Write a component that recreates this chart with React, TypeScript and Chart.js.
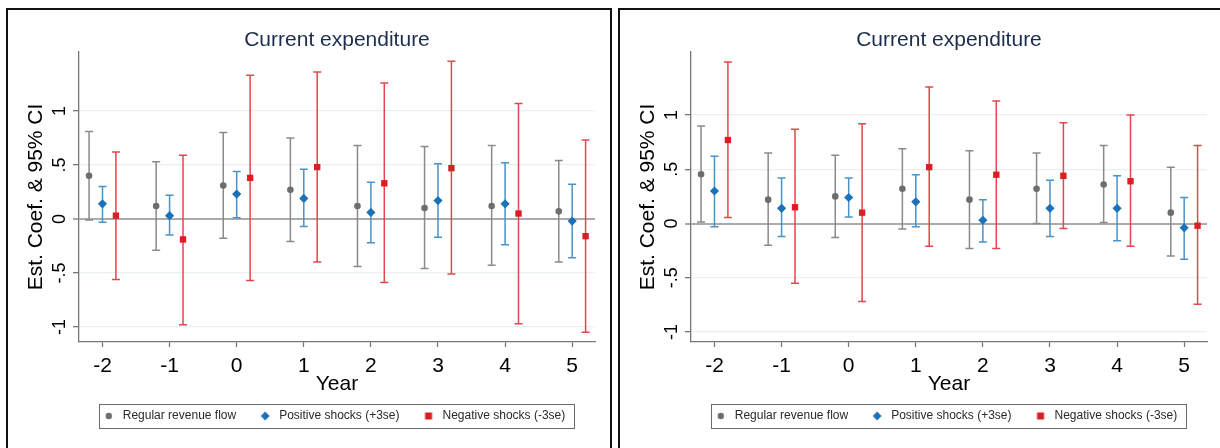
import React, { useEffect, useRef } from "react";
import { Chart, registerables } from "chart.js";

Chart.register(...registerables);

const FONT = '"Liberation Sans", Arial, Helvetica, sans-serif';

// ---- shared labels ----
const years = [-2, -1, 0, 1, 2, 3, 4, 5];
const yTickValues = [-1, -0.5, 0, 0.5, 1];
const yTickLabels = ["-1", "-.5", "0", ".5", "1"];
const seriesNames = ["Regular revenue flow", "Positive shocks (+3se)", "Negative shocks (-3se)"];
const chartTitle = "Current expenditure";
const yAxisTitle = "Est. Coef. & 95% CI";
const xAxisTitle = "Year";

// ---- left panel ----
const leftRegular = [0.40, 0.12, 0.31, 0.27, 0.12, 0.10, 0.12, 0.07];
const leftRegularLo = [-0.01, -0.29, -0.18, -0.21, -0.44, -0.46, -0.43, -0.40];
const leftRegularHi = [0.81, 0.53, 0.80, 0.75, 0.68, 0.67, 0.68, 0.54];
const leftPositive = [0.14, 0.03, 0.23, 0.19, 0.06, 0.17, 0.14, -0.02];
const leftPositiveLo = [-0.03, -0.15, 0.01, -0.07, -0.22, -0.17, -0.24, -0.36];
const leftPositiveHi = [0.30, 0.22, 0.44, 0.46, 0.34, 0.51, 0.52, 0.32];
const leftNegative = [0.03, -0.19, 0.38, 0.48, 0.33, 0.47, 0.05, -0.16];
const leftNegativeLo = [-0.56, -0.98, -0.57, -0.40, -0.59, -0.51, -0.97, -1.05];
const leftNegativeHi = [0.62, 0.59, 1.33, 1.36, 1.26, 1.46, 1.07, 0.73];

// ---- right panel ----
const rightRegular = [0.455, 0.22, 0.25, 0.32, 0.22, 0.32, 0.36, 0.10];
const rightRegularLo = [0.015, -0.20, -0.13, -0.05, -0.23, 0.0, 0.01, -0.30];
const rightRegularHi = [0.90, 0.65, 0.63, 0.69, 0.67, 0.65, 0.72, 0.52];
const rightPositive = [0.30, 0.14, 0.24, 0.20, 0.03, 0.14, 0.14, -0.04];
const rightPositiveLo = [-0.03, -0.12, 0.06, -0.03, -0.17, -0.12, -0.16, -0.33];
const rightPositiveHi = [0.62, 0.42, 0.42, 0.45, 0.22, 0.40, 0.44, 0.24];
const rightNegative = [0.77, 0.15, 0.10, 0.52, 0.45, 0.44, 0.39, -0.02];
const rightNegativeLo = [0.055, -0.55, -0.72, -0.21, -0.23, -0.045, -0.21, -0.745];
const rightNegativeHi = [1.49, 0.87, 0.92, 1.26, 1.13, 0.93, 1.00, 0.72];

// axis ranges
const xMin = -2.35;
const xMax = 5.34;
const leftYMin = -1.14;
const leftYMax = 1.546;
const rightYMin = -1.093;
const rightYMax = 1.582;

// styles
const dodge = [-0.2, 0, 0.2];
const markerColors = ["#6d6d6d", "#1c72b8", "#d91e25"];
const ciColors = ["#8a8a8a", "#4a92ca", "#e2474d"];
const markerStyles = ["circle", "rectRot", "rect"];
const markerRadii = [3.3, 4.6, 4.5];

function makeLegendMarker(style: string, color: string): HTMLCanvasElement {
  const c = document.createElement("canvas");
  c.width = 10;
  c.height = 10;
  const g = c.getContext("2d")!;
  g.fillStyle = color;
  g.beginPath();
  if (style === "circle") {
    g.arc(5, 5, 3.2, 0, Math.PI * 2);
  } else if (style === "rectRot") {
    g.moveTo(5, 0.6);
    g.lineTo(9.4, 5);
    g.lineTo(5, 9.4);
    g.lineTo(0.6, 5);
    g.closePath();
  } else {
    g.rect(1.5, 1.5, 7, 7);
  }
  g.fill();
  return c;
}

const errorBarPlugin = {
  id: "errorBars",
  beforeDatasetsDraw(chart: any) {
    const { ctx, scales } = chart;
    const xs = scales.x;
    const ys = scales.y;
    chart.data.datasets.forEach((ds: any) => {
      if (!ds.ciLow) return;
      ctx.save();
      ctx.strokeStyle = ds.ciColor;
      ctx.lineWidth = 1.5;
      ds.data.forEach((p: any, j: number) => {
        const x = xs.getPixelForValue(p.x);
        const yl = ys.getPixelForValue(ds.ciLow[j]);
        const yh = ys.getPixelForValue(ds.ciHigh[j]);
        ctx.beginPath();
        ctx.moveTo(x, yl);
        ctx.lineTo(x, yh);
        ctx.moveTo(x - 4, yl);
        ctx.lineTo(x + 4, yl);
        ctx.moveTo(x - 4, yh);
        ctx.lineTo(x + 4, yh);
        ctx.stroke();
      });
      ctx.restore();
    });
  },
};

// shifts the legend slightly left so its frame sits where the reference's does
const legendShiftPlugin = {
  id: "legendShift",
  afterLayout(chart: any) {
    const lg = chart.legend;
    if (!lg) return;
    lg.left -= 4;
    lg.right -= 4;
  },
};

const legendBoxPlugin = {
  id: "legendBox",
  afterDraw(chart: any) {
    const lg = chart.legend;
    const hb = lg && lg.legendHitBoxes;
    if (!hb || !hb.length) return;
    const first = hb[0];
    const last = hb[hb.length - 1];
    const left = Math.round(first.left - 2) + 0.5;
    const right = Math.round(last.left + last.width + 9) + 0.5;
    const cy = first.top + first.height / 2;
    const top = Math.round(cy - 12) + 0.5;
    const { ctx } = chart;
    ctx.save();
    ctx.strokeStyle = "#6b6b6b";
    ctx.lineWidth = 1;
    ctx.strokeRect(left, top, right - left, 24);
    ctx.restore();
  },
};

type PanelProps = {
  left: number;
  width: number;
  values: number[][];
  lows: number[][];
  highs: number[][];
  yMin: number;
  yMax: number;
};

function Panel({ left, width, values, lows, highs, yMin, yMax }: PanelProps) {
  const ref = useRef<HTMLCanvasElement | null>(null);
  useEffect(() => {
    if (!ref.current) return;
    const legendMarkers = markerStyles.map((s, i) => makeLegendMarker(s, markerColors[i]));
    const datasets = seriesNames.map((name, i) => ({
      label: name,
      data: years.map((yr, j) => ({ x: yr + dodge[i], y: values[i][j] })),
      backgroundColor: markerColors[i],
      borderColor: markerColors[i],
      pointStyle: markerStyles[i],
      pointRadius: markerRadii[i],
      pointHoverRadius: markerRadii[i],
      pointBorderWidth: 0,
      showLine: false,
      ciLow: lows[i],
      ciHigh: highs[i],
      ciColor: ciColors[i],
    }));
    const defaultLabels = (Chart.defaults as any).plugins.legend.labels.generateLabels;
    const chart = new Chart(ref.current, {
      type: "scatter",
      data: { datasets } as any,
      plugins: [legendShiftPlugin, errorBarPlugin, legendBoxPlugin],
      options: {
        responsive: false,
        animation: false,
        events: [],
        layout: { padding: { left: 0, right: 0, top: 0, bottom: 16 } },
        plugins: {
          tooltip: { enabled: false },
          title: {
            display: true,
            text: chartTitle,
            color: "#1c2d4f",
            font: { family: FONT, size: 21, weight: "normal" },
            padding: { top: 17.4, bottom: -0.6 },
          },
          legend: {
            position: "bottom",
            labels: {
              usePointStyle: true,
              pointStyleWidth: 16,
              boxHeight: 12,
              padding: 21,
              color: "#2a2a2a",
              font: { family: FONT, size: 12 },
              generateLabels: (ch: any) =>
                defaultLabels(ch).map((it: any, i: number) => ({
                  ...it,
                  pointStyle: legendMarkers[i],
                })),
            },
          },
        },
        scales: {
          x: {
            type: "linear",
            min: xMin,
            max: xMax,
            afterBuildTicks: (s: any) => {
              s.ticks = years.map((v) => ({ value: v }));
            },
            afterFit: (s: any) => {
              s.height = 47;
            },
            grid: {
              drawOnChartArea: false,
              tickLength: 5,
              tickColor: "#777",
              tickWidth: 1.3,
            },
            border: { color: "#777", width: 1.3 },
            ticks: {
              color: "#000",
              font: { family: FONT, size: 21 },
              padding: 6.6,
              autoSkip: false,
              maxRotation: 0,
              callback: (v: any) => String(v),
            },
            title: {
              display: true,
              text: xAxisTitle,
              color: "#000",
              font: { family: FONT, size: 21 },
              padding: { top: 0, bottom: -7.6 },
            },
          },
          y: {
            type: "linear",
            position: "left",
            min: yMin,
            max: yMax,
            afterBuildTicks: (s: any) => {
              s.ticks = yTickValues.map((v) => ({ value: v }));
            },
            afterFit: (s: any) => {
              s.width = 71;
            },
            grid: {
              color: (c: any) => (c.tick && c.tick.value === 0 ? "#ababab" : "#e8f0f2"),
              lineWidth: (c: any) => (c.tick && c.tick.value === 0 ? 2 : 1.3),
              tickColor: "#777",
              tickLength: 6,
              tickWidth: 1.3,
            },
            border: { color: "#777", width: 1.3 },
            ticks: {
              color: "#000",
              font: { family: FONT, size: 18 },
              minRotation: 90,
              maxRotation: 90,
              crossAlign: "center",
              padding: 2,
              autoSkip: false,
              callback: (v: any) => {
                const k = yTickValues.indexOf(Number(v));
                return k >= 0 ? yTickLabels[k] : "";
              },
            },
            title: {
              display: true,
              text: yAxisTitle,
              color: "#000",
              font: { family: FONT, size: 21 },
              padding: { top: 15.2, bottom: 0 },
            },
          },
          yPad: {
            type: "linear",
            position: "right",
            grid: { display: false, drawTicks: false },
            ticks: { display: false },
            border: { display: false },
            afterFit: (s: any) => {
              s.width = 71;
            },
          },
        },
      } as any,
    });
    return () => chart.destroy();
  }, []);

  return (
    <div
      style={{
        position: "absolute",
        left,
        top: 8,
        width,
        height: 470,
        border: "2px solid #111",
        boxSizing: "border-box",
        overflow: "hidden",
        background: "#fff",
      }}
    >
      <canvas
        ref={ref}
        width={658}
        height={438}
        style={{ position: "absolute", left: 0, top: 0, display: "block" }}
      />
    </div>
  );
}

export default function App() {
  return (
    <div
      style={{
        position: "fixed",
        left: 0,
        top: 0,
        width: 1220,
        height: 448,
        overflow: "hidden",
        background: "#fff",
      }}
    >
      <Panel
        left={6}
        width={606}
        values={[leftRegular, leftPositive, leftNegative]}
        lows={[leftRegularLo, leftPositiveLo, leftNegativeLo]}
        highs={[leftRegularHi, leftPositiveHi, leftNegativeHi]}
        yMin={leftYMin}
        yMax={leftYMax}
      />
      <Panel
        left={618}
        width={640}
        values={[rightRegular, rightPositive, rightNegative]}
        lows={[rightRegularLo, rightPositiveLo, rightNegativeLo]}
        highs={[rightRegularHi, rightPositiveHi, rightNegativeHi]}
        yMin={rightYMin}
        yMax={rightYMax}
      />
    </div>
  );
}
